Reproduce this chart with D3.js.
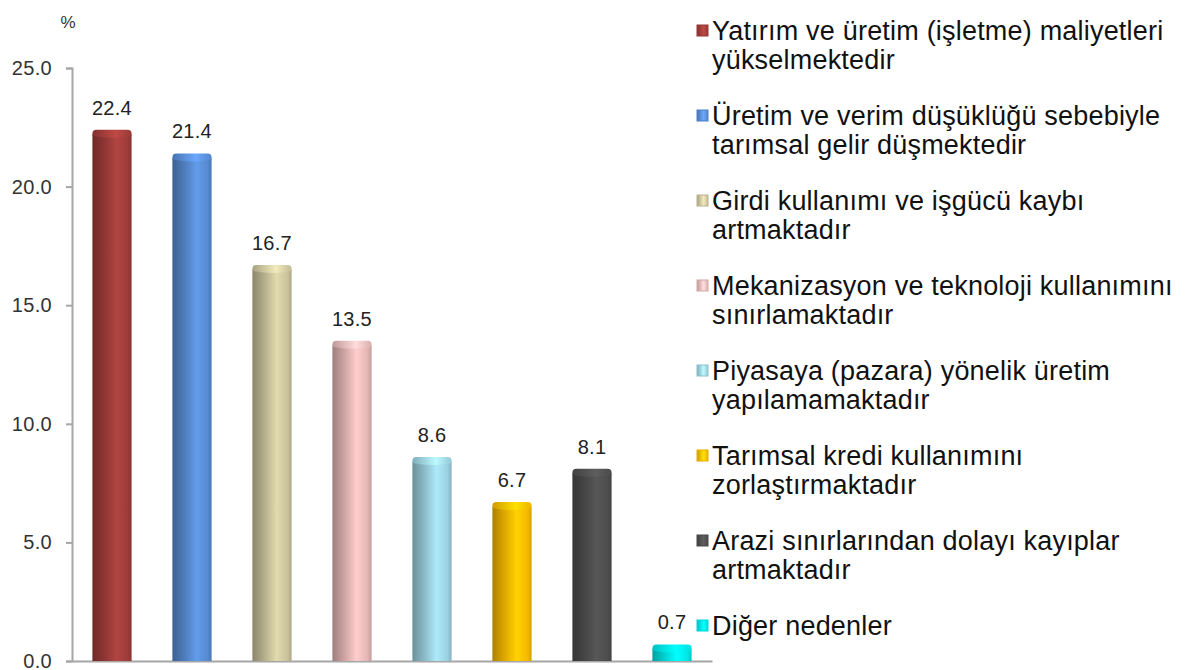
<!DOCTYPE html>
<meta charset="utf-8">
<style>
body { margin: 0; background: #fff; }
text { font-family: "Liberation Sans", Arial, sans-serif; }
.axis path, .axis line { stroke: #a6a6a6; stroke-width: 2px; }
.axis text { font-size: 20px; fill: #333; letter-spacing: 0.3px; }
.value { font-size: 20px; fill: #222; text-anchor: middle; letter-spacing: 0.3px; }
.legend text { font-size: 27px; fill: #111; letter-spacing: 0.2px; }
</style>
<body>
<script src="https://d3js.org/d3.v7.min.js"></script>
<script>

// data
var categories = [
  ["Yatırım ve üretim (işletme) maliyetleri", "yükselmektedir"],
  ["Üretim ve verim düşüklüğü sebebiyle", "tarımsal gelir düşmektedir"],
  ["Girdi kullanımı ve işgücü kaybı", "artmaktadır"],
  ["Mekanizasyon ve teknoloji kullanımını", "sınırlamaktadır"],
  ["Piyasaya (pazara) yönelik üretim", "yapılamamaktadır"],
  ["Tarımsal kredi kullanımını", "zorlaştırmaktadır"],
  ["Arazi sınırlarından dolayı kayıplar", "artmaktadır"],
  ["Diğer nedenler"]
];
var values = [22.4, 21.4, 16.7, 13.5, 8.6, 6.7, 8.1, 0.7];
var colors = ["#a33e3b", "#5a8fd8", "#cfc8a0", "#ebbcbb", "#9fd6e6", "#ffc000", "#505050", "#00eeee"];
var yTicks = [0, 5, 10, 15, 20, 25];

var width = 1190, height = 670;
var svg = d3.select("body").append("svg")
    .attr("width", width)
    .attr("height", height);

var defs = svg.append("defs");

var x = d3.scaleBand()
    .domain(d3.range(values.length))
    .range([72, 712])
    .paddingInner(0.51)
    .paddingOuter(0.255);

var y = d3.scaleLinear().domain([0, 25]).range([661, 68]);

// gradients for the cylinders
colors.forEach(function(c, i) {
  var base = d3.color(c);
  var g = defs.append("linearGradient").attr("id", "g" + i)
      .attr("x1", "0%").attr("x2", "100%").attr("y1", "0%").attr("y2", "0%");
  g.append("stop").attr("offset", "0%").attr("stop-color", base.darker(1.1));
  g.append("stop").attr("offset", "30%").attr("stop-color", base.darker(0.4));
  g.append("stop").attr("offset", "62%").attr("stop-color", base.brighter(0.25));
  g.append("stop").attr("offset", "90%").attr("stop-color", base.darker(0.1));
  g.append("stop").attr("offset", "100%").attr("stop-color", base.darker(0.5));

  var t = defs.append("linearGradient").attr("id", "t" + i)
      .attr("x1", "0%").attr("x2", "100%").attr("y1", "0%").attr("y2", "0%");
  t.append("stop").attr("offset", "0%").attr("stop-color", base.darker(0.6));
  t.append("stop").attr("offset", "60%").attr("stop-color", base.brighter(0.45));
  t.append("stop").attr("offset", "100%").attr("stop-color", base.darker(0.2));
});

// axes
svg.append("g")
    .attr("class", "axis")
    .attr("transform", "translate(72,0)")
    .call(d3.axisLeft(y).tickValues(yTicks).tickSize(6).tickPadding(14).tickFormat(d3.format(".1f")));

svg.append("g")
    .attr("class", "axis")
    .attr("transform", "translate(0,661)")
    .call(d3.axisBottom(x).tickSize(0).tickFormat(""));

svg.append("text")
    .attr("x", 68).attr("y", 28)
    .attr("text-anchor", "middle")
    .style("font-size", "17px").style("fill", "#333")
    .text("%");

// bars
var bars = svg.append("g").selectAll("g")
    .data(values)
    .join("g");

var capR = 5;

bars.append("rect")
    .attr("x", function(d, i) { return x(i); })
    .attr("y", function(d) { return y(d) + capR; })
    .attr("width", x.bandwidth())
    .attr("height", function(d) { return y(0) - y(d) - capR; })
    .attr("fill", function(d, i) { return "url(#g" + i + ")"; });

bars.append("path")
    .attr("d", function(d, i) {
      var x0 = x(i), w = x.bandwidth(), top = y(d), r = 4;
      return "M" + x0 + "," + (top + capR + 1) +
        "L" + x0 + "," + (top + r) +
        "Q" + x0 + "," + top + " " + (x0 + r) + "," + top +
        "L" + (x0 + w - r) + "," + top +
        "Q" + (x0 + w) + "," + top + " " + (x0 + w) + "," + (top + r) +
        "L" + (x0 + w) + "," + (top + capR + 1) +
        "Q" + (x0 + w / 2) + "," + (top + capR * 2) + " " + x0 + "," + (top + capR + 1) + "Z";
    })
    .attr("fill", function(d, i) { return "url(#t" + i + ")"; });

bars.append("text")
    .attr("class", "value")
    .attr("x", function(d, i) { return x(i) + x.bandwidth() / 2; })
    .attr("y", function(d) { return y(d) - 15; })
    .text(function(d) { return d3.format(".1f")(d); });

// legend
var legend = svg.append("g").attr("class", "legend")
    .selectAll("g")
    .data(categories)
    .join("g")
    .attr("transform", function(d, i) { return "translate(697," + (30 + i * 85) + ")"; });

legend.append("rect")
    .attr("x", 0).attr("y", -5)
    .attr("width", 11).attr("height", 11)
    .attr("fill", function(d, i) { return "url(#t" + i + ")"; })
    .attr("stroke", function(d, i) { return d3.color(colors[i]).darker(0.3); })
    .attr("stroke-width", 1);

legend.selectAll("text.line")
    .data(function(d) { return d; })
    .join("text")
    .attr("class", "line")
    .attr("x", 15)
    .attr("y", function(d, j) { return 10 + j * 29; })
    .text(function(d) { return d; });

</script>
</body>
